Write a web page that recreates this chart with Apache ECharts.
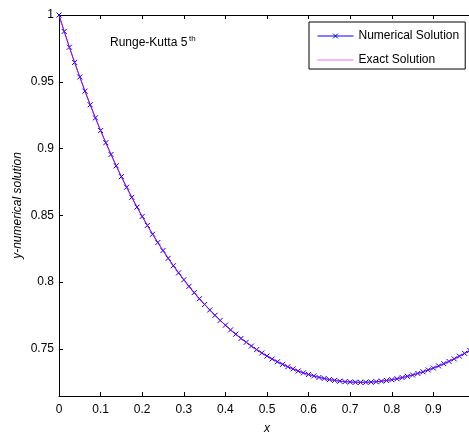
<!DOCTYPE html>
<html><head><meta charset="utf-8">
<script src="https://cdn.jsdelivr.net/npm/echarts@6/dist/echarts.min.js"></script>
<style>html,body{margin:0;padding:0;background:#fff}#c{width:469px;height:432px}</style>
</head><body><div id="c"></div>
<script>
const xValues = [
  0, 0.0125, 0.025, 0.0375, 0.05, 0.0625, 0.075, 0.0875, 0.1, 0.1125,
  0.125, 0.1375, 0.15, 0.1625, 0.175, 0.1875, 0.2, 0.2125, 0.225, 0.2375,
  0.25, 0.2625, 0.275, 0.2875, 0.3, 0.3125, 0.325, 0.3375, 0.35, 0.3625,
  0.375, 0.3875, 0.4, 0.4125, 0.425, 0.4375, 0.45, 0.4625, 0.475, 0.4875,
  0.5, 0.5125, 0.525, 0.5375, 0.55, 0.5625, 0.575, 0.5875, 0.6, 0.6125,
  0.625, 0.6375, 0.65, 0.6625, 0.675, 0.6875, 0.7, 0.7125, 0.725, 0.7375,
  0.75, 0.7625, 0.775, 0.7875, 0.8, 0.8125, 0.825, 0.8375, 0.85, 0.8625,
  0.875, 0.8875, 0.9, 0.9125, 0.925, 0.9375, 0.95, 0.9625, 0.975, 0.9875,
  1.0
];
const numericalValues = [
  1.0000, 0.9877, 0.9759, 0.9645, 0.9536, 0.9430, 0.9328, 0.9230, 0.9135, 0.9044,
  0.8956, 0.8871, 0.8790, 0.8711, 0.8635, 0.8562, 0.8492, 0.8425, 0.8359, 0.8297,
  0.8237, 0.8179, 0.8123, 0.8070, 0.8018, 0.7969, 0.7922, 0.7876, 0.7833, 0.7792,
  0.7752, 0.7714, 0.7678, 0.7643, 0.7611, 0.7579, 0.7550, 0.7522, 0.7495, 0.7470,
  0.7447, 0.7425, 0.7404, 0.7385, 0.7367, 0.7351, 0.7335, 0.7321, 0.7309, 0.7298,
  0.7287, 0.7279, 0.7271, 0.7265, 0.7259, 0.7255, 0.7253, 0.7251, 0.7250, 0.7251,
  0.7252, 0.7255, 0.7259, 0.7264, 0.7270, 0.7277, 0.7286, 0.7295, 0.7305, 0.7317,
  0.7329, 0.7343, 0.7357, 0.7373, 0.7390, 0.7407, 0.7426, 0.7446, 0.7467, 0.7489,
  0.7511
];
const exactValues = [
  1.0000, 0.9877, 0.9759, 0.9645, 0.9536, 0.9430, 0.9328, 0.9230, 0.9135, 0.9044,
  0.8956, 0.8871, 0.8790, 0.8711, 0.8635, 0.8562, 0.8492, 0.8425, 0.8359, 0.8297,
  0.8237, 0.8179, 0.8123, 0.8070, 0.8018, 0.7969, 0.7922, 0.7876, 0.7833, 0.7792,
  0.7752, 0.7714, 0.7678, 0.7643, 0.7611, 0.7579, 0.7550, 0.7522, 0.7495, 0.7470,
  0.7447, 0.7425, 0.7404, 0.7385, 0.7367, 0.7351, 0.7335, 0.7321, 0.7309, 0.7298,
  0.7287, 0.7279, 0.7271, 0.7265, 0.7259, 0.7255, 0.7253, 0.7251, 0.7250, 0.7251,
  0.7252, 0.7255, 0.7259, 0.7264, 0.7270, 0.7277, 0.7286, 0.7295, 0.7305, 0.7317,
  0.7329, 0.7343, 0.7357, 0.7373, 0.7390, 0.7407, 0.7426, 0.7446, 0.7467, 0.7489,
  0.7511
];
const xTickValues = [0, 0.1, 0.2, 0.3, 0.4, 0.5, 0.6, 0.7, 0.8, 0.9, 1];
const yTickValues = [0.75, 0.8, 0.85, 0.9, 0.95, 1];
const seriesNames = ['Numerical Solution', 'Exact Solution'];

const FONT = "'Liberation Sans', Arial, sans-serif";
const chart = echarts.init(document.getElementById('c'), null, {renderer: 'canvas'});

const numericalData = xValues.map((x, i) => [x, numericalValues[i]]);
const exactData = xValues.map((x, i) => [x, exactValues[i]]);

const axisCommon = {
  type: 'value',
  axisLine: {show: true, onZero: false, lineStyle: {color: '#000', width: 1}},
  splitLine: {show: false},
};

chart.setOption({
  animation: false,
  backgroundColor: '#fff',
  grid: {left: 59, top: 15, right: -6, bottom: 36, containLabel: false, outerBoundsMode: 'none'},
  xAxis: [
    Object.assign({}, axisCommon, {
      min: 0, max: 1,
      position: 'bottom',
      name: 'x', nameLocation: 'middle', nameGap: 27, nameMoveOverlap: false,
      nameTextStyle: {fontFamily: FONT, fontSize: 12, fontStyle: 'italic', color: '#000'},
      axisTick: {show: true, inside: true, length: 4, customValues: xTickValues, lineStyle: {color: '#000'}},
      axisLabel: {show: true, margin: 8, customValues: xTickValues, fontFamily: FONT, fontSize: 12, color: '#000'}
    }),
    Object.assign({}, axisCommon, {
      min: 0, max: 1,
      position: 'top',
      axisTick: {show: true, inside: true, length: 4, customValues: xTickValues, lineStyle: {color: '#000'}},
      axisLabel: {show: false}
    })
  ],
  yAxis: [
    Object.assign({}, axisCommon, {
      min: 0.7148, max: 1,
      position: 'left',
      name: 'y-numerical solution', nameLocation: 'middle', nameGap: 35, nameMoveOverlap: false,
      nameTextStyle: {fontFamily: FONT, fontSize: 12, fontStyle: 'italic', color: '#000'},
      axisTick: {show: true, inside: true, length: 4, customValues: yTickValues, lineStyle: {color: '#000'}},
      axisLabel: {show: true, margin: 5, customValues: yTickValues, fontFamily: FONT, fontSize: 12, color: '#000'}
    })
  ],
  legend: {
    orient: 'vertical',
    left: 309, top: 22,
    itemWidth: 36, itemHeight: 6, itemGap: 12,
    padding: [8, 6, 3, 8],
    borderColor: '#000', borderWidth: 1, backgroundColor: '#fff',
    textStyle: {fontFamily: FONT, fontSize: 12, color: '#000'},
    lineStyle: {width: 1},
    itemStyle: {borderWidth: 1},
    data: [
      {name: seriesNames[0]},
      {name: seriesNames[1], itemStyle: {opacity: 0}}
    ]
  },
  graphic: [
    {type: 'text', left: 110, top: 37, silent: true,
     style: {text: 'Runge-Kutta 5', font: '12px ' + FONT, fill: '#000'}},
    {type: 'text', left: 189, top: 35, silent: true,
     style: {text: 'th', font: '8px ' + FONT, fill: '#000'}}
  ],
  series: [
    {
      name: seriesNames[0], type: 'line', data: numericalData,
      xAxisIndex: 0, yAxisIndex: 0,
      symbol: 'path://M0,0L10,10M10,0L0,10', symbolSize: 5, showSymbol: true,
      itemStyle: {color: '#0000ff', borderColor: '#0000ff', borderWidth: 1},
      lineStyle: {color: '#0000ff', width: 1},
      emphasis: {disabled: true}, z: 2
    },
    {
      name: seriesNames[1], type: 'line', data: exactData,
      xAxisIndex: 0, yAxisIndex: 0,
      symbol: 'none',
      itemStyle: {color: '#ff00ff'},
      lineStyle: {color: '#ff00ff', width: 1, opacity: 0.6},
      emphasis: {disabled: true}, z: 3
    }
  ]
});
</script>
</body></html>
